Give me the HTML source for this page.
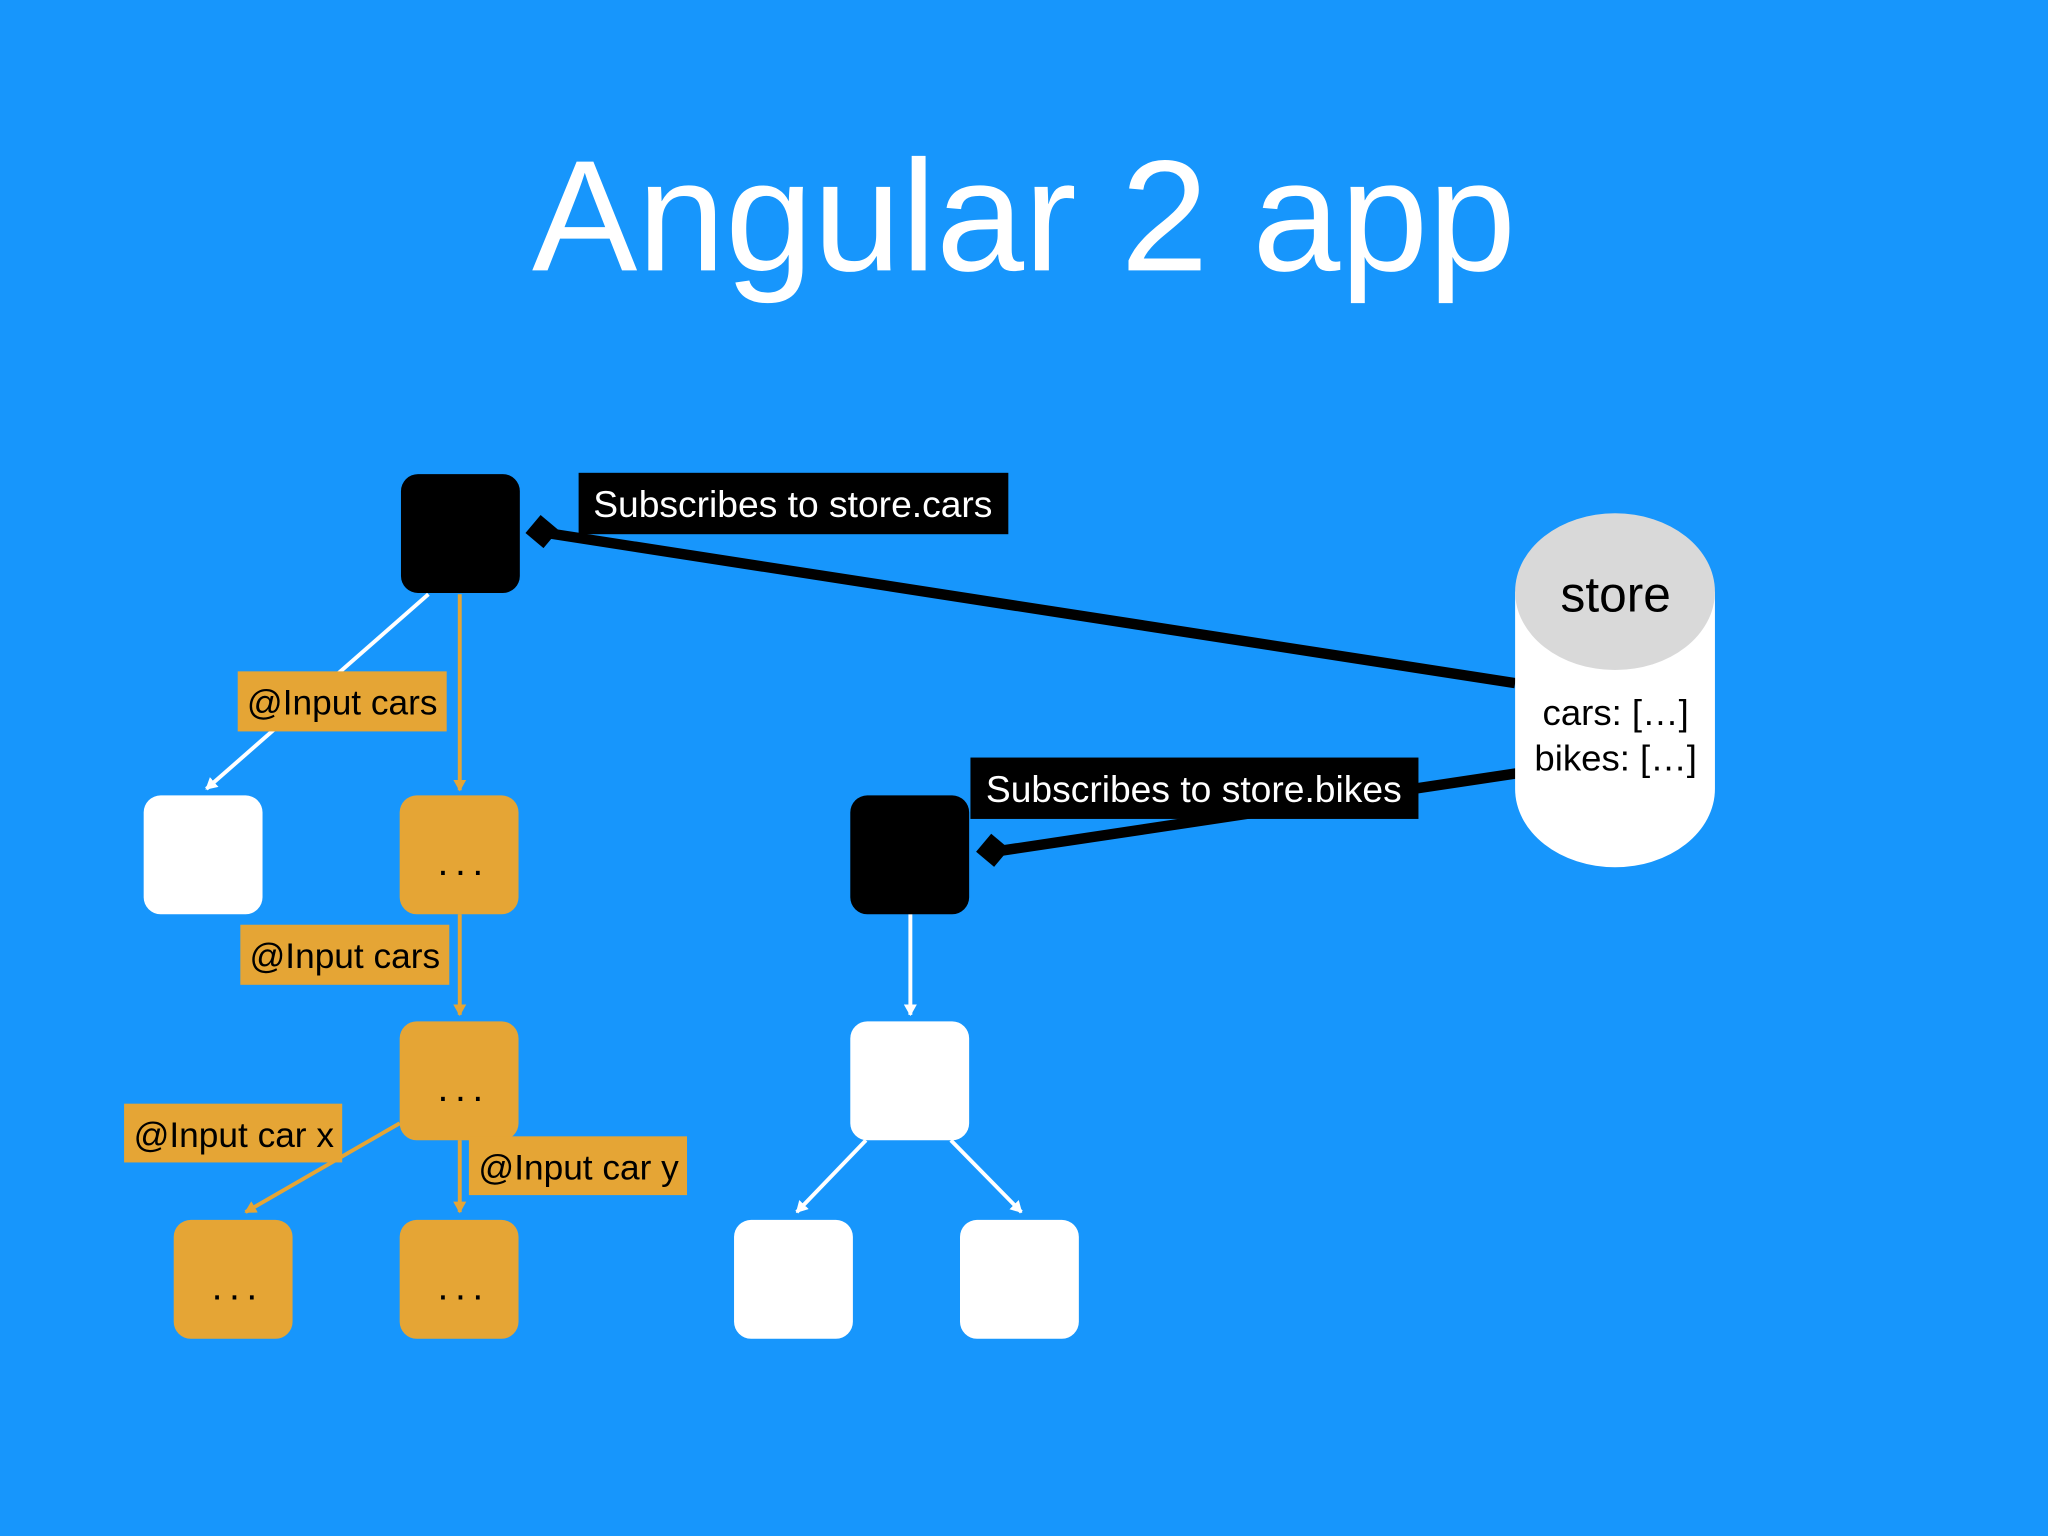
<!DOCTYPE html>
<html><head><meta charset="utf-8"><style>
html,body{margin:0;padding:0;background:#1796fc;}
svg{display:block;}
text{font-family:"Liberation Sans",sans-serif;}
</style></head><body>
<svg width="2048" height="1536" viewBox="0 0 1568 1176" preserveAspectRatio="none" xmlns="http://www.w3.org/2000/svg">
<defs>
<marker id="aw" markerWidth="10" markerHeight="10" refX="8" refY="5" orient="auto" markerUnits="userSpaceOnUse"><path d="M0,0 L9,5 L0,10 Z" fill="#fff"/></marker>
<marker id="ao" markerWidth="10" markerHeight="10" refX="8" refY="5" orient="auto" markerUnits="userSpaceOnUse"><path d="M0,0 L9,5 L0,10 Z" fill="#e5a535"/></marker>
</defs>
<rect width="1568" height="1176" fill="#1796fc"/>
<text x="784" y="207" font-size="121" fill="#fff" text-anchor="middle">Angular 2 app</text>

<line x1="328" y1="455" x2="158" y2="604" stroke="#fff" stroke-width="3" marker-end="url(#aw)"/>
<line x1="352" y1="455" x2="352" y2="605" stroke="#e5a535" stroke-width="3" marker-end="url(#ao)"/>
<line x1="352" y1="700" x2="352" y2="777" stroke="#e5a535" stroke-width="3" marker-end="url(#ao)"/>
<line x1="352" y1="873" x2="352" y2="928" stroke="#e5a535" stroke-width="3" marker-end="url(#ao)"/>
<line x1="306" y1="860" x2="188" y2="928" stroke="#e5a535" stroke-width="3" marker-end="url(#ao)"/>
<line x1="697" y1="700" x2="697" y2="777" stroke="#fff" stroke-width="3" marker-end="url(#aw)"/>
<line x1="663" y1="873" x2="610" y2="928" stroke="#fff" stroke-width="3" marker-end="url(#aw)"/>
<line x1="728" y1="873" x2="782" y2="928" stroke="#fff" stroke-width="3" marker-end="url(#aw)"/>

<line x1="418" y1="408" x2="1160" y2="523" stroke="#000" stroke-width="8"/>
<rect x="406" y="398" width="18" height="18" fill="#000" transform="rotate(40 415 407)"/>
<line x1="762" y1="652" x2="1162" y2="592" stroke="#000" stroke-width="8"/>
<rect x="751" y="642" width="18" height="18" fill="#000" transform="rotate(40 760 651)"/>

<rect x="307" y="363" width="91" height="91" rx="13" fill="#000"/>
<rect x="110" y="609" width="91" height="91" rx="13" fill="#fff"/>
<rect x="306" y="609" width="91" height="91" rx="13" fill="#e5a535"/>
<rect x="306" y="782" width="91" height="91" rx="13" fill="#e5a535"/>
<rect x="133" y="934" width="91" height="91" rx="13" fill="#e5a535"/>
<rect x="306" y="934" width="91" height="91" rx="13" fill="#e5a535"/>
<rect x="651" y="609" width="91" height="91" rx="13" fill="#000"/>
<rect x="651" y="782" width="91" height="91" rx="13" fill="#fff"/>
<rect x="562" y="934" width="91" height="91" rx="13" fill="#fff"/>
<rect x="735" y="934" width="91" height="91" rx="13" fill="#fff"/>
<g font-size="30" fill="#000" text-anchor="middle" letter-spacing="5">
<text x="355" y="670">...</text>
<text x="355" y="843">...</text>
<text x="182" y="995">...</text>
<text x="355" y="995">...</text>
</g>

<rect x="182" y="514" width="160" height="46" fill="#e5a535"/>
<text x="262" y="547" font-size="27" text-anchor="middle" fill="#000">@Input cars</text>
<rect x="184" y="708" width="160" height="46" fill="#e5a535"/>
<text x="264" y="741" font-size="27" text-anchor="middle" fill="#000">@Input cars</text>
<rect x="95" y="845" width="167" height="45" fill="#e5a535"/>
<text x="179" y="878" font-size="27" text-anchor="middle" fill="#000">@Input car x</text>
<rect x="359" y="870" width="167" height="45" fill="#e5a535"/>
<text x="443" y="903" font-size="27" text-anchor="middle" fill="#000">@Input car y</text>

<rect x="443" y="362" width="329" height="47" fill="#000"/>
<text x="607" y="396" font-size="28.5" text-anchor="middle" fill="#fff">Subscribes to store.cars</text>
<rect x="743" y="580" width="343" height="47" fill="#000"/>
<text x="914" y="614" font-size="28.5" text-anchor="middle" fill="#fff">Subscribes to store.bikes</text>

<path d="M1160,453 L1160,604 A76.5,60 0 0 0 1313,604 L1313,453 Z" fill="#fff"/>
<ellipse cx="1236.5" cy="453" rx="76.5" ry="60" fill="#d9d9d9"/>
<text x="1237" y="468" font-size="38" text-anchor="middle" fill="#000">store</text>
<text x="1237" y="555" font-size="28" text-anchor="middle" fill="#000">cars: […]</text>
<text x="1237" y="590" font-size="28" text-anchor="middle" fill="#000">bikes: […]</text>
</svg>
</body></html>
